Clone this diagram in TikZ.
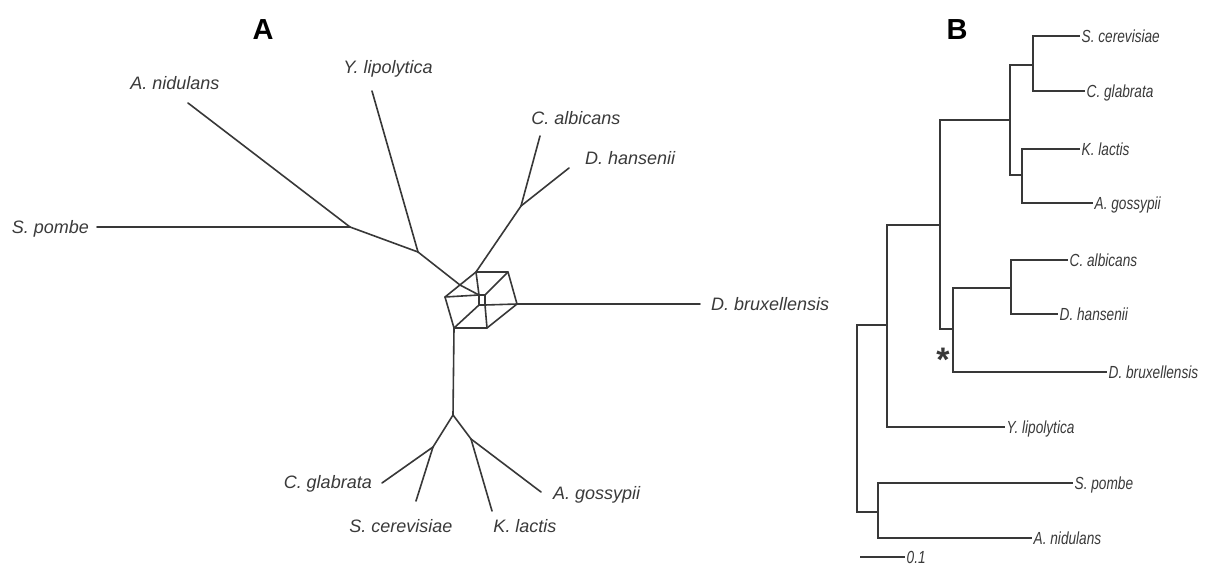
\documentclass[tikz,border=0pt]{standalone}
\usepackage{fontspec}
\setmainfont{Liberation Sans}
\newfontfamily\narrowfont[FakeStretch=0.78]{Liberation Sans}
\definecolor{ln}{HTML}{383838}
\definecolor{tx}{HTML}{3A3A3A}
\tikzset{
  edgeA/.style={draw=ln, line width=1.6pt, line cap=round, line join=round},
  edgeB/.style={draw=ln, line width=1.4pt, line join=miter},
  alab/.style={font=\fontsize{18}{20}\selectfont\itshape, text=tx, inner sep=1pt, text height=13pt, text depth=0pt},
  blab/.style={font=\narrowfont\fontsize{17.5}{19}\selectfont\itshape, text=tx, inner sep=1.5pt, text height=12.5pt, text depth=0pt, anchor=west},
  head/.style={font=\fontsize{29}{30}\selectfont\bfseries, inner sep=0pt}
}
\begin{document}
\begin{tikzpicture}[x=1pt,y=-1pt]
\useasboundingbox[fill=white] (0,0) rectangle (1211,565);

% ---------------- Panel A ----------------
\node[head] (hA) at (263,30) {A};

% internal coordinates
\coordinate (J1) at (350,227);
\coordinate (J2) at (418,252);
\coordinate (J3) at (453,415);
\coordinate (J4) at (521,206);
\coordinate (J5) at (433,447);
\coordinate (J6) at (471,439);
% network box
\coordinate (P1) at (445,297);
\coordinate (P2) at (460,285);
\coordinate (P3) at (476,272);
\coordinate (P4) at (508,272);
\coordinate (P5) at (517,304);
\coordinate (P6) at (487,328);
\coordinate (P7) at (454,328);
\coordinate (Q1) at (479,295);
\coordinate (Q2) at (485,295);
\coordinate (Q3) at (485,305);
\coordinate (Q4) at (479,305);
% leaf ends
\coordinate (eSpo) at (97,227);
\coordinate (eAni) at (188,103);
\coordinate (eYli) at (372,91);
\coordinate (eCal) at (540,136);
\coordinate (eDha) at (569,168);
\coordinate (eDbr) at (700,304);
\coordinate (eCgl) at (382,483);
\coordinate (eSce) at (416,501);
\coordinate (eKla) at (492,511);
\coordinate (eAgo) at (541,492);

% labels
\node[alab, anchor=east] (tSpo) at (90,227) {S. pombe};
\node[alab] (tAni) at (175,83) {A. nidulans};
\node[alab] (tYli) at (388,67) {Y. lipolytica};
\node[alab] (tCal) at (576,118) {C. albicans};
\node[alab, anchor=west] (tDha) at (584,158) {D. hansenii};
\node[alab, anchor=west] (tDbr) at (710,304) {D. bruxellensis};
\node[alab, anchor=east] (tCgl) at (373,482) {C. glabrata};
\node[alab] (tSce) at (401,526) {S. cerevisiae};
\node[alab] (tKla) at (525,526) {K. lactis};
\node[alab, anchor=west] (tAgo) at (552,493) {A. gossypii};

% tree edges
\draw[edgeA] (eSpo) -- (J1);
\draw[edgeA] (eAni) -- (J1);
\draw[edgeA] (J1) -- (J2);
\draw[edgeA] (eYli) -- (J2);
\draw[edgeA] (J2) -- (P2);
\draw[edgeA] (P2) -- (Q1);
\draw[edgeA] (P3) -- (J4);
\draw[edgeA] (J4) -- (eCal);
\draw[edgeA] (J4) -- (eDha);
\draw[edgeA] (P5) -- (eDbr);
\draw[edgeA] (P7) -- (J3);
\draw[edgeA] (J3) -- (J5);
\draw[edgeA] (J5) -- (eCgl);
\draw[edgeA] (J5) -- (eSce);
\draw[edgeA] (J3) -- (J6);
\draw[edgeA] (J6) -- (eKla);
\draw[edgeA] (J6) -- (eAgo);
% network box
\draw[edgeA] (P1) -- (P3) -- (P4) -- (P5) -- (P6) -- (P7) -- cycle;
\draw[edgeA] (P1) -- (Q1);
\draw[edgeA] (Q3) -- (P5);
\draw[edgeA] (P3) -- (Q1);
\draw[edgeA] (Q3) -- (P6);
\draw[edgeA] (P7) -- (Q4);
\draw[edgeA] (Q2) -- (P4);
\draw[edgeA] (Q1) -- (Q2) -- (Q3) -- (Q4) -- cycle;

% ---------------- Panel B ----------------
\node[head] (hB) at (957,30) {B};

\coordinate (root) at (857,420);
\coordinate (n887) at (887,325);
\coordinate (nSP) at (878,512);
\coordinate (n940) at (940,225);
\coordinate (n1010) at (1010,120);
\coordinate (n1033) at (1033,65);
\coordinate (n1022) at (1022,175);
\coordinate (n953) at (953,329);
\coordinate (n1011) at (1011,288);

\node[blab] (bSce) at (1080,36) {S. cerevisiae};
\node[blab] (bCgl) at (1085,91) {C. glabrata};
\node[blab] (bKla) at (1080,149) {K. lactis};
\node[blab] (bAgo) at (1093,203) {A. gossypii};
\node[blab] (bCal) at (1068,260) {C. albicans};
\node[blab] (bDha) at (1058,314) {D. hansenii};
\node[blab] (bDbr) at (1107,372) {D. bruxellensis};
\node[blab] (bYli) at (1005,427) {Y. lipolytica};
\node[blab] (bSpo) at (1073,483) {S. pombe};
\node[blab] (bAni) at (1032,538) {A. nidulans};

\draw[edgeB] (root) |- (n887);
\draw[edgeB] (root) |- (nSP);
\draw[edgeB] (nSP) |- (bSpo.west);
\draw[edgeB] (nSP) |- (bAni.west);
\draw[edgeB] (n887) |- (n940);
\draw[edgeB] (n887) |- (bYli.west);
\draw[edgeB] (n940) |- (n1010);
\draw[edgeB] (n940) |- (n953);
\draw[edgeB] (n1010) |- (n1033);
\draw[edgeB] (n1010) |- (n1022);
\draw[edgeB] (n1033) |- (bSce.west);
\draw[edgeB] (n1033) |- (bCgl.west);
\draw[edgeB] (n1022) |- (bKla.west);
\draw[edgeB] (n1022) |- (bAgo.west);
\draw[edgeB] (n953) |- (n1011);
\draw[edgeB] (n953) |- (bDbr.west);
\draw[edgeB] (n1011) |- (bCal.west);
\draw[edgeB] (n1011) |- (bDha.west);

% asterisk
\node[font=\fontsize{34}{34}\selectfont\bfseries, anchor=base, inner sep=0pt, text=ln] (ast) at (943,371) {*};

% scale bar
\coordinate (sb1) at (860,557);
\node[blab] (sbl) at (905,557) {0.1};
\draw[edgeB] (sb1) -- (sbl.west);
\end{tikzpicture}
\end{document}
